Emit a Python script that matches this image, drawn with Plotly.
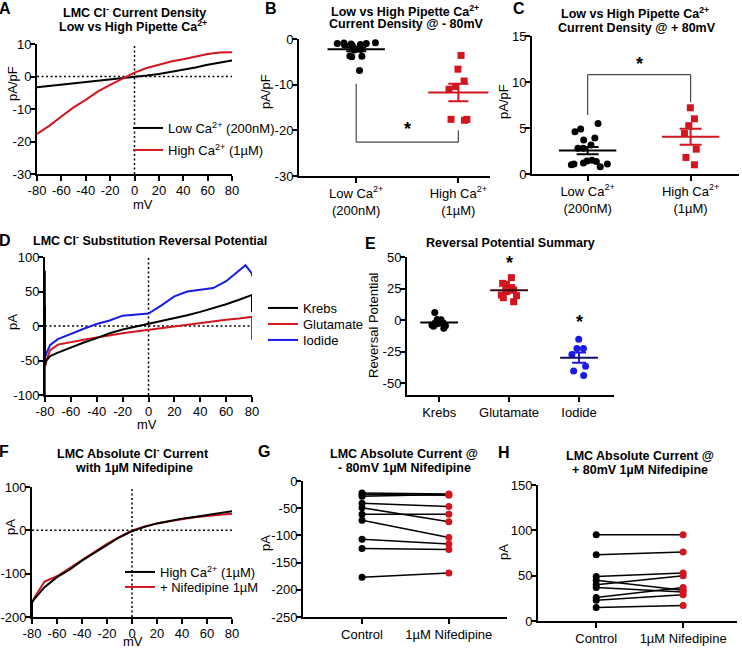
import numpy as np
import plotly.graph_objects as go

W, H = 742, 648
FONT = "Arial, 'Liberation Sans', Helvetica, sans-serif"
RED = "#d2151e"
BLUE = "#1a1ae6"
BLACK = "#000000"
GREY = "#4a4a4a"

# ---------------- data ----------------
# Panel A: current density (pA/pF) vs mV
A_mv = [-80, -70, -60, -50, -40, -30, -20, -10, 0, 10, 20, 30, 40, 50, 60, 70, 80]
A_low = [-3.3, -2.9, -2.6, -2.3, -1.9, -1.5, -1.0, -0.6, -0.1, 0.3, 0.8, 1.4, 2.1, 2.8, 3.6, 4.3, 4.9]
A_high = [-17.7, -15.2, -12.3, -9.5, -7.2, -4.6, -2.6, -0.8, 1.2, 2.6, 3.6, 4.6, 5.3, 6.2, 6.9, 7.4, 7.5]

# Panel B: current density @ -80 mV
B_cats = ["Low Ca<sup>2+</sup><br>(200nM)", "High Ca<sup>2+</sup><br>(1µM)"]
B_low = [-0.8, -0.9, -1.0, -1.0, -1.1, -1.2, -1.3, -1.5, -2.0, -2.2, -2.4, -2.3, -3.7, -3.8, -3.9, -6.9]
B_high = [-3.6, -6.6, -9.2, -10.4, -11.0, -17.6, -17.8, -17.6]

# Panel C: current density @ +80 mV
C_cats = ["Low Ca<sup>2+</sup><br>(200nM)", "High Ca<sup>2+</sup><br>(1µM)"]
C_low = [5.5, 4.9, 4.6, 3.9, 3.7, 3.15, 2.8, 2.8, 1.5, 1.35, 1.1, 0.8, 1.1, 1.2, 1.4, 1.0]
C_high = [7.2, 6.0, 5.25, 4.4, 2.7, 1.8, 1.0]

# Panel D: reversal potential traces (pA vs mV)
D_mv = [-80, -80, -79, -76, -70, -60, -50, -40, -30, -20, -10, 0, 10, 20, 30, 40, 50, 60, 70, 75, 80, 80]
D_krebs = [28, -57, -50, -43.5, -38.5, -31, -24, -17.5, -10.5, -5, -1, 3, 7, 11.5, 15.5, 20.5, 25.5, 31.5, 38, 42, 45, 20]
D_glut = [-100, -60, -50, -35, -27, -24, -20, -16.5, -13, -10.5, -8, -5.5, -2.5, 0, 2.5, 4.5, 6.5, 9, 11, 12, 13.5, -20]
D_iodide = [80, -45, -40, -27.5, -19, -11, -4, 3, 8, 15, 17, 18, 30, 43, 50, 52, 55, 65, 80, 88, 76, 72]

# Panel E: reversal potential summary
E_cats = ["Krebs", "Glutamate", "Iodide"]
E_krebs = [6.0, 0.5, 0.3, -1.5, -2.5, -3.0, -4.0, -4.5, -5.0, -6.6]
E_glut = [33.6, 29.1, 28.3, 25.7, 25.1, 23.8, 22.5, 19.8, 19.3, 17.7, 14.5]
E_iodide = [-15.2, -22.6, -22.6, -27.4, -36.7, -40.4, -44.1]

# Panel F: absolute current with nifedipine
F_mv = [-80, -80, -78, -75, -70, -60, -50, -40, -30, -20, -10, 0, 10, 20, 30, 40, 50, 60, 70, 80]
F_ctrl = [-200, -165, -158, -148, -131, -108, -91, -70, -52, -33, -16, -2, 8, 16, 22, 27, 31, 35, 40, 44]
F_nif = [-180, -168, -155, -140, -118, -106, -87, -68, -49, -31, -15, -1, 9, 16, 21, 26, 30, 33, 36, 38]

# Panels G / H: paired data
GH_cats = ["Control", "1µM Nifedipine"]
G_ctrl = [-22, -25, -28, -41, -49, -61, -72, -107, -124, -177]
G_nif = [-24, -26, -25, -47, -75, -61, -104, -116, -126, -169]
H_ctrl = [95, 73, 49, 45, 40, 37, 26, 23, 15]
H_nif = [95, 76, 53, 34, 50, 32, 37, 29, 17]

# tick values / labels
MV_TICKS = [-80, -60, -40, -20, 0, 20, 40, 60, 80]
A_YTICKS = [-30, -20, -10, 0, 10]
B_YTICKS = [-30, -20, -10, 0]
C_YTICKS = [0, 5, 10, 15]
D_YTICKS = [-100, -50, 0, 50, 100]
E_YTICKS = [-50, -25, 0, 25, 50]
F_YTICKS = [-200, -100, 0, 100]
G_YTICKS = [-250, -200, -150, -100, -50, 0]
H_YTICKS = [0, 50, 100, 150]


# ---------------- helpers ----------------
def xd(a, b):
    return [a / W, b / W]


def yd(top, bottom):
    return [1 - bottom / H, 1 - top / H]


def px(x):
    return x / W


def py(y):
    return 1 - y / H


def lab(v):
    return [str(t) for t in v]


base_axis = dict(
    showline=True, linewidth=2, linecolor="black", ticks="outside", ticklen=5,
    tickwidth=2, tickcolor="black", showgrid=False, zeroline=False, automargin=False,
    tickfont=dict(family=FONT, size=13, color="black"), fixedrange=True,
)

fig = go.Figure()
layout = {}


def lin_x(i, dom, rng, ticks, anchor):
    d = dict(base_axis, domain=dom, range=rng, tickmode="array", tickvals=ticks,
             ticktext=lab(ticks), anchor=anchor, ticklabelstandoff=-2)
    layout["xaxis" if i == 1 else f"xaxis{i}"] = d


def lin_y(i, dom, rng, ticks, anchor):
    d = dict(base_axis, domain=dom, range=rng, tickmode="array", tickvals=ticks,
             ticktext=lab(ticks), anchor=anchor, ticklabelstandoff=-4)
    layout["yaxis" if i == 1 else f"yaxis{i}"] = d


def cat_x(i, dom, rng, cats, anchor):
    d = dict(base_axis, domain=dom, range=rng, type="category",
             categoryorder="array", categoryarray=cats, anchor=anchor, ticklabelstandoff=-1)
    layout["xaxis" if i == 1 else f"xaxis{i}"] = d


def ax(i):
    return ("x" if i == 1 else f"x{i}", "y" if i == 1 else f"y{i}")


# axes
lin_x(1, xd(37, 232), [-80, 80], MV_TICKS, "y")
lin_y(1, yd(44, 174), [-30, 10], A_YTICKS, "x")
cat_x(2, xd(299, 490), [-0.56, 1.31], B_cats, "y2")
lin_y(2, yd(39, 176), [-30, 0], B_YTICKS, "x2")
cat_x(3, xd(532, 739), [-0.54, 1.47], C_cats, "y3")
lin_y(3, yd(36, 174), [0, 15], C_YTICKS, "x3")
lin_x(4, xd(45, 252), [-80, 80], MV_TICKS, "y4")
lin_y(4, yd(257, 395), [-100, 100], D_YTICKS, "x4")
cat_x(5, xd(407, 614), [-0.46, 2.5], E_cats, "y5")
lin_y(5, yd(257, 395), [-59.5, 50], E_YTICKS, "x5")
lin_x(6, xd(32, 232), [-80, 80], MV_TICKS, "y6")
lin_y(6, yd(487, 617), [-200, 100], F_YTICKS, "x6")
cat_x(7, xd(303, 507), [-0.68, 1.67], GH_cats, "y7")
lin_y(7, yd(481, 617), [-250, 0], G_YTICKS, "x7")
cat_x(8, xd(538, 737), [-0.67, 1.62], GH_cats, "y8")
lin_y(8, yd(485, 621), [0, 150], H_YTICKS, "x8")

shapes = []


def zero_lines(i):
    xa, ya = ax(i)
    dot = dict(color="black", width=1.5, dash="2px,2.5px")
    shapes.append(dict(type="line", xref=xa, yref=ya + " domain", x0=0, x1=0, y0=0, y1=1, line=dot, layer="below"))
    shapes.append(dict(type="line", xref=xa + " domain", yref=ya, x0=0, x1=1, y0=0, y1=0, line=dot, layer="below"))


for i in (1, 4, 6):
    zero_lines(i)


def curve(i, x, y, color, name=None, legend=None):
    xa, ya = ax(i)
    fig.add_trace(go.Scatter(
        x=x, y=y, mode="lines", line=dict(color=color, width=2),
        name=name or "", xaxis=xa, yaxis=ya,
        showlegend=legend is not None, legend=legend or "legend",
    ))


# Panel A
curve(1, A_mv, A_low, BLACK, "Low Ca<sup>2+</sup> (200nM)", "legend")
curve(1, A_mv, A_high, RED, "High Ca<sup>2+</sup> (1µM)", "legend2")
# Panel D
curve(4, D_mv, D_glut, RED, "Glutamate", "legend4")
curve(4, D_mv, D_iodide, BLUE, "Iodide", "legend5")
curve(4, D_mv, D_krebs, BLACK, "Krebs", "legend3")
# Panel F
curve(6, F_mv, F_nif, RED, "+ Nifedipine 1µM", "legend7")
curve(6, F_mv, F_ctrl, BLACK, "High Ca<sup>2+</sup> (1µM)", "legend6")


def swarm(i, cat, vals, color, symbol, width, jitter, size=7):
    xa, ya = ax(i)
    fig.add_trace(go.Box(
        x=[cat] * len(vals), y=vals, boxpoints="all", jitter=jitter, pointpos=0,
        width=width, fillcolor="rgba(0,0,0,0)", line=dict(width=0, color="rgba(0,0,0,0)"),
        whiskerwidth=0, marker=dict(color=color, symbol=symbol, size=size),
        xaxis=xa, yaxis=ya, showlegend=False, hoveron="points",
    ))


def mean_sem(i, cat, vals, color, lw, cap, ecolor=None):
    xa, ya = ax(i)
    v = np.array(vals, dtype=float)
    m = v.mean()
    s = v.std(ddof=1) / np.sqrt(len(v))
    fig.add_trace(go.Scatter(
        x=[cat], y=[m], mode="markers",
        marker=dict(symbol="line-ew", size=lw, color=color, line=dict(width=2, color=color)),
        error_y=dict(type="data", array=[s], color=ecolor or color, thickness=2, width=cap),
        xaxis=xa, yaxis=ya, showlegend=False,
    ))


# Panel B
swarm(2, B_cats[0], B_low, BLACK, "circle", 0.5, 0.85)
swarm(2, B_cats[1], B_high, RED, "square", 0.26, 0.9)
mean_sem(2, B_cats[0], B_low, BLACK, 41, 10)
mean_sem(2, B_cats[1], B_high, RED, 43, 10)
# Panel C
swarm(3, C_cats[0], C_low, BLACK, "circle", 0.55, 0.9)
swarm(3, C_cats[1], C_high, RED, "square", 0.18, 0.8)
mean_sem(3, C_cats[0], C_low, BLACK, 41, 11)
mean_sem(3, C_cats[1], C_high, RED, 41, 11)
# Panel E
swarm(5, E_cats[0], E_krebs, BLACK, "circle", 0.3, 0.85)
swarm(5, E_cats[1], E_glut, RED, "square", 0.32, 0.85)
swarm(5, E_cats[2], E_iodide, BLUE, "circle", 0.3, 0.85)
mean_sem(5, E_cats[0], E_krebs, BLACK, 27, 7)
mean_sem(5, E_cats[1], E_glut, "#3a0a0a", 27, 7, RED)
mean_sem(5, E_cats[2], E_iodide, "#10106a", 27, 7, BLUE)


def paired(i, ctrl, nif):
    xa, ya = ax(i)
    xs, ys = [], []
    for c, n in zip(ctrl, nif):
        xs += [GH_cats[0], GH_cats[1], None]
        ys += [c, n, None]
    fig.add_trace(go.Scatter(x=xs, y=ys, mode="lines", line=dict(color=BLACK, width=1.5),
                             xaxis=xa, yaxis=ya, showlegend=False, connectgaps=False))
    fig.add_trace(go.Scatter(x=[GH_cats[0]] * len(ctrl), y=ctrl, mode="markers",
                             marker=dict(color=BLACK, size=7), xaxis=xa, yaxis=ya, showlegend=False))
    fig.add_trace(go.Scatter(x=[GH_cats[1]] * len(nif), y=nif, mode="markers",
                             marker=dict(color=RED, size=7), xaxis=xa, yaxis=ya, showlegend=False))


paired(7, G_ctrl, G_nif)
paired(8, H_ctrl, H_nif)

# significance brackets (B and C)
br = dict(color=GREY, width=1.2)
shapes += [
    dict(type="line", xref="x2", yref="y2", x0=0, x1=0, y0=-9.8, y1=-22.6, line=br),
    dict(type="line", xref="x2", yref="y2", x0=0, x1=1, y0=-22.6, y1=-22.6, line=br),
    dict(type="line", xref="x2", yref="y2", x0=1, x1=1, y0=-22.6, y1=-20.0, line=br),
    dict(type="line", xref="x3", yref="y3", x0=0, x1=0, y0=6.4, y1=10.8, line=br),
    dict(type="line", xref="x3", yref="y3", x0=0, x1=1, y0=10.8, y1=10.8, line=br),
    dict(type="line", xref="x3", yref="y3", x0=1, x1=1, y0=10.8, y1=7.8, line=br),
]

ann = []


def text(x, y, s, size=13, bold=False, angle=0, xanchor="center"):
    ann.append(dict(
        xref="paper", yref="paper", x=px(x), y=py(y), text=f"<b>{s}</b>" if bold else s,
        showarrow=False, xanchor=xanchor, yanchor="middle", textangle=angle,
        font=dict(family=FONT, size=size, color="black"),
    ))


def star(xa, ya, x, y):
    ann.append(dict(xref=xa, yref=ya, x=x, y=y, text="<b>*</b>", showarrow=False,
                    font=dict(family=FONT, size=18, color="black"), yanchor="middle"))


star("x2", "y2", 0.5, -19.6)
star("x3", "y3", 0.5, 12.0)
star("x5", "y5", 1, 45)
star("x5", "y5", 2, -1.5)

# panel letters
for L, x, y in [("A", -3, 8), ("B", 263, 9), ("C", 511, 9), ("D", -3, 240), ("E", 363, 243),
                ("F", -3, 451), ("G", 256, 451), ("H", 496, 452)]:
    text(x, y, L, size=16, bold=True, xanchor="left")

TS = 12.5
# titles
text(134, 12, "LMC Cl<sup>-</sup> Current Density", TS, True)
text(133, 26, "Low vs High Pipette Ca<sup>2+</sup>", TS, True)
text(405, 11, "Low vs High Pipette Ca<sup>2+</sup>", TS, True)
text(407, 24, "Current Density @ - 80mV", TS, True)
text(635, 13, "Low vs High Pipette Ca<sup>2+</sup>", TS, True)
text(637, 28, "Current Density @ + 80mV", TS, True)
text(150, 240, "LMC Cl<sup>-</sup> Substitution Reversal Potential", TS, True)
text(510, 243, "Reversal Potential Summary", TS, True)
text(133, 453, "LMC Absolute Cl<sup>-</sup> Current", TS, True)
text(134, 468, "with 1µM Nifedipine", TS, True)
text(404, 454, "LMC Absolute Current @", TS, True)
text(404, 468, "- 80mV 1µM Nifedipine", TS, True)
text(640, 456, "LMC Absolute Current @", TS, True)
text(640, 470, "+ 80mV 1µM Nifedipine", TS, True)

# axis titles
text(12, 84, "pA/pF", 13, angle=-90)
text(143, 204, "mV", 13)
text(266, 92, "pA/pF", 13, angle=-90)
text(503, 102, "pA/pF", 13, angle=-90)
text(12, 322, "pA", 13, angle=-90)
text(147, 424, "mV", 13)
text(373, 325, "Reversal Potential", 13, angle=-90)
text(10, 527, "pA", 13, angle=-90)
text(133, 641, "mV", 13)
text(265, 543, "pA", 13, angle=-90)
text(503, 552, "pA", 13, angle=-90)


# legends (one per entry, placed individually)
def leg(x, y):
    return dict(x=px(x), y=py(y), xanchor="left", yanchor="middle", bgcolor="rgba(0,0,0,0)",
                borderwidth=0, font=dict(family=FONT, size=13, color="black"), itemwidth=30)


layout.update(
    legend=leg(128, 128), legend2=leg(128, 150),
    legend3=leg(263, 308), legend4=leg(263, 324), legend5=leg(263, 340),
    legend6=leg(120, 572), legend7=leg(120, 587),
)

fig.update_layout(
    template="none",
    width=W, height=H, autosize=False, margin=dict(l=0, r=0, t=0, b=0, pad=0, autoexpand=False),
    plot_bgcolor="white", paper_bgcolor="white", font=dict(family=FONT, size=13, color="black"),
    shapes=shapes, annotations=ann, boxmode="overlay", **layout,
)

fig.write_html(
    "out.html",
    config={"displayModeBar": False, "staticPlot": True},
    post_script="document.body.style.margin='0';document.body.style.overflow='hidden';",
)
